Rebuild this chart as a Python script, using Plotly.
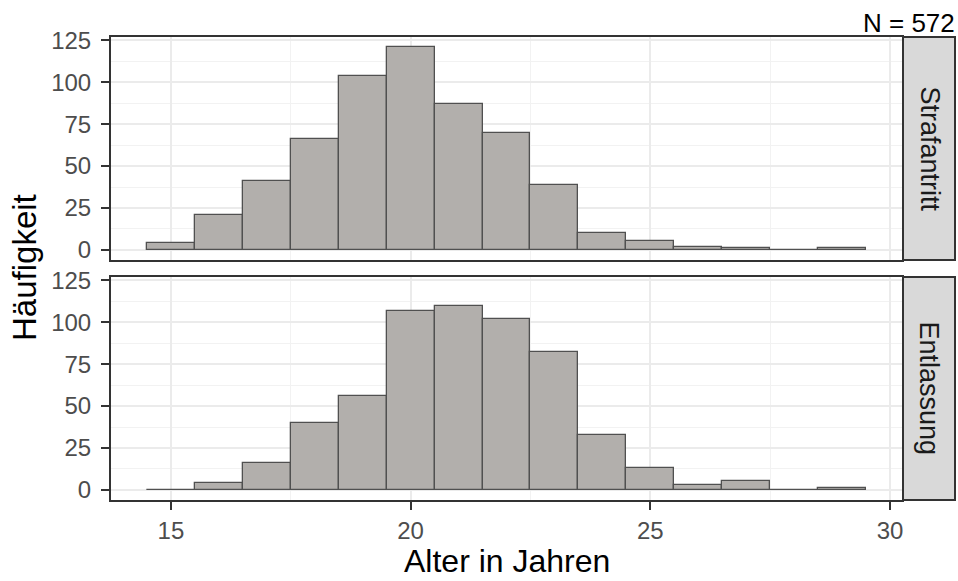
import plotly.graph_objects as go

# ---- data ----
bin_centers = [15, 16, 17, 18, 19, 20, 21, 22, 23, 24, 25, 26, 27, 28, 29]
strafantritt = [4, 21, 41, 66, 104, 121, 87, 70, 39, 10, 5, 2, 1, 0, 1]
entlassung = [0, 4, 16, 40, 56, 107, 110, 102, 82, 33, 13, 3, 5, 0, 1]
facet_labels = ["Strafantritt", "Entlassung"]
x_ticks = [15, 20, 25, 30]
y_ticks = [0, 25, 50, 75, 100, 125]
n_label = "N = 572"
x_title = "Alter in Jahren"
y_title = "Häufigkeit"

W, H = 958, 581
FONT = "Arial, Liberation Sans, sans-serif"
BAR_FILL = "#B2AFAC"
BAR_LINE = "#505050"
BORDER = "#333333"
GRID = "#EBEBEB"

# pixel geometry of panels
px_left, px_right = 111, 902
panels_px = [(37, 260), (277, 500)]
strip_px = (903, 955)


def px2x(p):
    return p / W


def px2y(p):
    return 1 - p / H


fig = go.Figure()
series = [strafantritt, entlassung]
for i, vals in enumerate(series):
    fig.add_trace(go.Bar(
        x=bin_centers, y=vals, width=1,
        marker=dict(color=BAR_FILL, line=dict(color=BAR_LINE, width=1.3)),
        xaxis="x" if i == 0 else "x2",
        yaxis="y" if i == 0 else "y2",
        showlegend=False, hoverinfo="x+y",
    ))

xrange = [13.75, 30.25]
yrange = [-6.05, 127.05]

common_x = dict(
    range=xrange, domain=[px2x(px_left), px2x(px_right)],
    showline=True, mirror=True, linecolor=BORDER, linewidth=2,
    showgrid=True, gridcolor=GRID, gridwidth=1.6,
    tickvals=x_ticks, zeroline=False, automargin=False,
    minor=dict(dtick=2.5, tick0=12.5, showgrid=True, gridcolor="#F2F2F2", gridwidth=1),
)
common_y = dict(
    range=yrange,
    showline=True, mirror=True, linecolor=BORDER, linewidth=2,
    showgrid=True, gridcolor=GRID, gridwidth=1.6,
    tickvals=y_ticks, zeroline=False, automargin=False,
    ticks="outside", ticklen=8, tickwidth=2, tickcolor=BORDER,
    tickfont=dict(family=FONT, size=24, color="#4D4D4D"),
    ticklabelstandoff=5,
    minor=dict(dtick=12.5, tick0=0, showgrid=True, gridcolor="#F2F2F2", gridwidth=1),
)

fig.update_layout(
    template="none",
    width=W, height=H, autosize=False,
    margin=dict(l=0, r=0, t=0, b=0, pad=0),
    paper_bgcolor="white", plot_bgcolor="white",
    bargap=0,
    xaxis=dict(common_x, anchor="y", showticklabels=False, ticks="", matches="x2"),
    xaxis2=dict(common_x, anchor="y2", ticks="outside", ticklen=8, tickwidth=2,
                tickcolor=BORDER,
                tickfont=dict(family=FONT, size=24, color="#4D4D4D")),
    yaxis=dict(common_y, anchor="x",
               domain=[px2y(panels_px[0][1]), px2y(panels_px[0][0])]),
    yaxis2=dict(common_y, anchor="x2",
                domain=[px2y(panels_px[1][1]), px2y(panels_px[1][0])]),
)

shapes = []
annotations = []
for i, (top, bot) in enumerate(panels_px):
    shapes.append(dict(
        type="rect", xref="paper", yref="paper",
        x0=px2x(strip_px[0]), x1=px2x(strip_px[1]),
        y0=px2y(bot), y1=px2y(top),
        fillcolor="#D9D9D9", line=dict(color=BORDER, width=2), layer="above",
    ))
    annotations.append(dict(
        text=facet_labels[i], xref="paper", yref="paper",
        x=px2x((strip_px[0] + strip_px[1]) / 2), y=px2y((top + bot) / 2),
        showarrow=False, textangle=90,
        font=dict(family=FONT, size=27, color="#1A1A1A"),
        xanchor="center", yanchor="middle",
    ))

annotations.append(dict(
    text=n_label, xref="paper", yref="paper", x=px2x(957), y=px2y(37),
    xanchor="right", yanchor="bottom", yshift=-3, showarrow=False,
    font=dict(family=FONT, size=26, color="black"),
))
annotations.append(dict(
    text=x_title, xref="paper", yref="paper",
    x=px2x((px_left + px_right) / 2), y=0, xanchor="center", yanchor="bottom",
    yshift=0, showarrow=False, font=dict(family=FONT, size=32, color="black"),
))
annotations.append(dict(
    text=y_title, xref="paper", yref="paper", x=px2x(24), y=px2y(268),
    xanchor="center", yanchor="middle", textangle=-90,
    showarrow=False, font=dict(family=FONT, size=33, color="black"),
))

fig.update_layout(shapes=shapes, annotations=annotations)
fig.write_html(
    "out.html",
    config={"displayModeBar": False},
    post_script="document.body.style.margin='0';document.body.style.overflow='hidden';",
)
